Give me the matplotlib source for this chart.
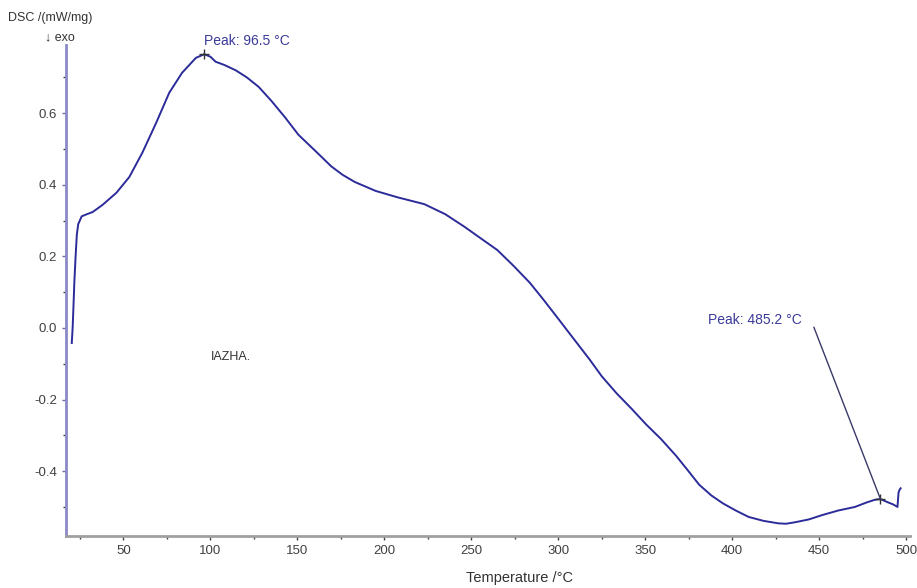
import numpy as np
import matplotlib.pyplot as plt
from matplotlib.ticker import MultipleLocator

# DSC trace read at key temperatures (degC -> mW/mg)
temp = [20.3, 20.8, 21.2, 21.8, 22.5, 23.2, 24.0, 26.0, 29.0, 32.3, 38.0, 46.0, 53.4,
        60.9, 68.8, 76.3, 83.7, 91.7, 96.5, 100.0, 103.0, 108.0, 114.6, 121.0, 127.7,
        135.0, 143.0, 150.6, 162.0, 169.4, 176.0, 183.0, 195.0, 207.7, 223.0, 235.0,
        246.0, 255.0, 264.9, 274.0, 283.7, 291.0, 299.0, 308.0, 318.0, 325.0, 333.4,
        342.0, 350.6, 359.0, 367.7, 374.0, 381.0, 388.0, 394.6, 402.0, 409.4, 418.0,
        426.6, 431.0, 436.0, 444.0, 451.6, 461.0, 470.6, 477.0, 482.0, 485.2, 489.4,
        492.5, 495.0, 495.6, 496.2, 496.8]
dsc = [-0.042, 0.00, 0.05, 0.13, 0.20, 0.26, 0.29, 0.312, 0.318, 0.324, 0.344, 0.378,
       0.422, 0.49, 0.573, 0.657, 0.713, 0.755, 0.765, 0.758, 0.744, 0.735, 0.72, 0.70,
       0.674, 0.635, 0.588, 0.54, 0.487, 0.452, 0.428, 0.408, 0.383, 0.365, 0.346, 0.318,
       0.283, 0.252, 0.218, 0.175, 0.126, 0.082, 0.032, -0.025, -0.088, -0.135, -0.182,
       -0.225, -0.27, -0.31, -0.357, -0.395, -0.438, -0.468, -0.49, -0.51, -0.528,
       -0.539, -0.546, -0.547, -0.543, -0.535, -0.523, -0.51, -0.50, -0.488, -0.48,
       -0.478, -0.487, -0.493, -0.50, -0.46, -0.452, -0.448]

peak1 = (96.5, 0.765)
peak2 = (485.2, -0.478)

plt.rcParams['font.family'] = ['Liberation Sans', 'DejaVu Sans']
fig = plt.figure(figsize=(9.17, 5.88), dpi=100)
ax = fig.add_axes([0.072, 0.088, 0.920, 0.835])

line_col = '#2b2b9a'
ax.plot(temp, dsc, color=line_col, lw=1.4)

ax.set_xlim(17, 502)
ax.set_ylim(-0.582, 0.79)
ax.xaxis.set_major_locator(MultipleLocator(50))
ax.xaxis.set_minor_locator(MultipleLocator(25))
ax.yaxis.set_major_locator(MultipleLocator(0.2))
ax.yaxis.set_minor_locator(MultipleLocator(0.1))
ax.yaxis.set_major_formatter(plt.FuncFormatter(lambda v, p: '%.1f' % v))

for s in ['top', 'right']:
    ax.spines[s].set_visible(False)
ax.spines['left'].set_color('#8a8ac8')
ax.spines['left'].set_linewidth(2)
ax.spines['bottom'].set_color('#a0a0a0')
ax.spines['bottom'].set_linewidth(2)
ax.tick_params(which='both', direction='out', colors='#404040', labelsize=9.5)
ax.tick_params(which='major', length=3, width=1)
ax.tick_params(which='minor', length=2, width=1)
ax.tick_params(axis='y', colors='#6a6aa8', labelcolor='#404040')

# peak labels
ax.plot(*peak1, marker='+', color='#333333', ms=7, mew=1)
ax.text(peak1[0], 0.803, 'Peak: %.1f \u00b0C' % peak1[0], color='#3a3a9a', fontsize=10,
        ha='left', va='center')
ax.plot(*peak2, marker='+', color='#333333', ms=7, mew=1)
ax.annotate('Peak: %.1f \u00b0C' % peak2[0], xy=peak2, xytext=(386, 0.022),
            color='#3a3a9a', fontsize=10, ha='left', va='center',
            arrowprops=dict(arrowstyle='-', color='#3a3a6a', lw=1,
                            relpos=(1.13, 0.0), shrinkA=0, shrinkB=0))

ax.text(100, -0.08, 'IAZHA.', color='#333333', fontsize=9, ha='left', va='center')

fig.text(0.009, 0.97, 'DSC /(mW/mg)', color='#333333', fontsize=9, ha='left', va='center')
fig.text(0.049, 0.937, '\u2193 exo', color='#333333', fontsize=9, ha='left', va='center')
fig.text(0.567, 0.017, 'Temperature /\u00b0C', color='#333333', fontsize=10.5,
         ha='center', va='center')

fig.savefig('out.png', dpi=100)
